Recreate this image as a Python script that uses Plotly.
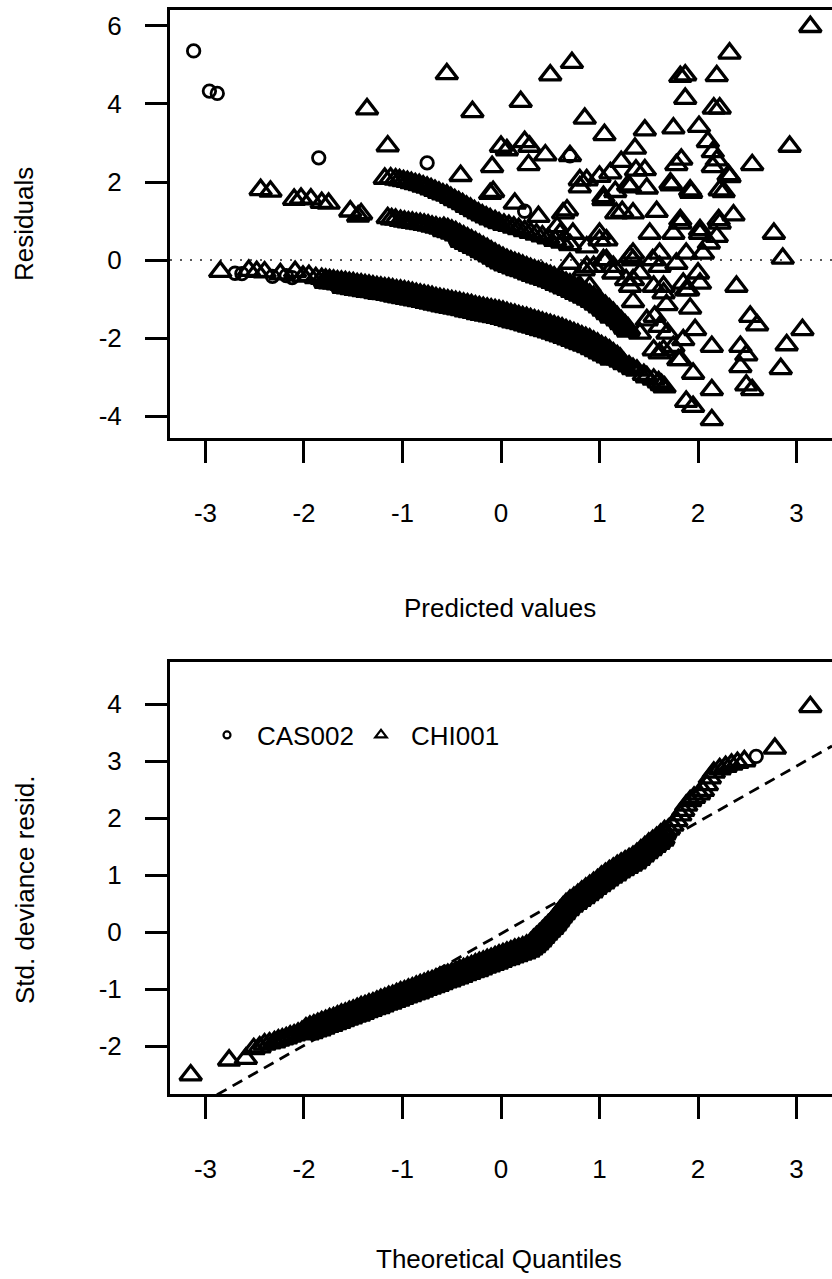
import plotly.graph_objects as go

W, H = 832, 1279
FONT = "Liberation Sans, Arial, Helvetica, sans-serif"

# ---------------- Residuals vs predicted values ----------------
# CHI001 (triangles): isolated points left of the bands
chi_left = [(-2.44, 1.80), (-2.34, 1.76), (-2.10, 1.55), (-2.03, 1.58), (-1.93, 1.56),
            (-1.82, 1.47), (-1.75, 1.45), (-1.53, 1.25), (-1.42, 1.18), (-1.45, 1.12),
            (-1.36, 3.87), (-1.15, 2.92), (-1.18, 2.09), (-0.55, 4.77), (-0.29, 3.80),
            (-0.41, 2.16), (-0.09, 2.39), (-0.08, 1.75), (-0.11, 1.70)]

# CHI001: upper band
chi_band_upper = [(-1.12, 2.10), (-1.07, 2.07), (-1.03, 2.05), (-0.99, 2.03), (-0.95, 2.01),
                  (-0.91, 1.98), (-0.87, 1.95), (-0.83, 1.93), (-0.79, 1.89), (-0.75, 1.86),
                  (-0.71, 1.82), (-0.67, 1.78), (-0.63, 1.73), (-0.59, 1.69), (-0.55, 1.66),
                  (-0.51, 1.60), (-0.47, 1.54), (-0.43, 1.49), (-0.39, 1.44), (-0.35, 1.37),
                  (-0.31, 1.32), (-0.27, 1.26), (-0.23, 1.20), (-0.19, 1.15), (-0.15, 1.10),
                  (-0.11, 1.05), (-0.06, 1.00), (-0.02, 0.95), (0.03, 0.91), (0.08, 0.88),
                  (0.13, 0.84), (0.18, 0.80), (0.24, 0.75), (0.30, 0.70), (0.36, 0.66),
                  (0.42, 0.61), (0.48, 0.56), (0.55, 0.50), (0.62, 0.45), (0.70, 0.39)]

# CHI001: middle band (upper and lower edge of the band)
chi_band_middle = [(-1.15, 1.08), (-1.11, 1.05), (-1.07, 1.04), (-1.02, 1.01), (-0.98, 0.99),
                   (-0.94, 0.97), (-0.90, 0.96), (-0.86, 0.94), (-0.82, 0.93), (-0.78, 0.91),
                   (-0.74, 0.89), (-0.70, 0.86), (-0.66, 0.84), (-0.62, 0.81), (-0.58, 0.78),
                   (-0.54, 0.75), (-0.50, 0.71), (-0.46, 0.67), (-0.42, 0.61), (-0.38, 0.56),
                   (-0.34, 0.51), (-0.30, 0.46), (-0.26, 0.41), (-0.22, 0.35), (-0.18, 0.29),
                   (-0.14, 0.24), (-0.10, 0.18), (-0.06, 0.12), (-0.02, 0.06), (0.02, 0.01),
                   (0.06, -0.04), (0.10, -0.08), (0.14, -0.12), (0.18, -0.15), (0.22, -0.19),
                   (0.26, -0.23), (0.30, -0.27), (0.34, -0.31), (0.38, -0.34), (0.42, -0.37),
                   (0.46, -0.41), (0.50, -0.45), (0.54, -0.49), (0.58, -0.54), (0.62, -0.58),
                   (0.66, -0.63), (0.70, -0.67), (0.74, -0.72), (0.78, -0.77), (0.82, -0.82),
                   (0.86, -0.87), (0.90, -0.93), (0.94, -0.99), (0.98, -1.06), (1.02, -1.14),
                   (1.06, -1.22), (1.10, -1.31), (1.14, -1.40), (1.18, -1.51), (1.22, -1.61),
                   (1.26, -1.72), (1.29, -1.80)]
chi_band_middle_low = [(-0.40, 0.50), (-0.36, 0.45), (-0.32, 0.40), (-0.28, 0.35), (-0.24, 0.30),
                       (-0.20, 0.24), (-0.16, 0.19), (-0.12, 0.13), (-0.08, 0.07), (-0.04, 0.01),
                       (0.00, -0.05), (0.04, -0.10), (0.08, -0.14), (0.12, -0.18), (0.16, -0.22),
                       (0.20, -0.25), (0.24, -0.29), (0.28, -0.33), (0.32, -0.37), (0.36, -0.41),
                       (0.40, -0.44), (0.44, -0.47), (0.48, -0.51), (0.52, -0.55), (0.56, -0.60),
                       (0.60, -0.64), (0.64, -0.69), (0.68, -0.73), (0.72, -0.78), (0.76, -0.83),
                       (0.80, -0.88), (0.84, -0.93), (0.88, -0.98), (0.92, -1.04), (0.96, -1.11),
                       (1.00, -1.18), (1.04, -1.26), (1.08, -1.35), (1.12, -1.44)]

# CHI001: lowest (dense) band
chi_band_lower = [(-2.85, -0.30), (-2.56, -0.27), (-2.48, -0.30), (-2.40, -0.31), (-2.24, -0.36),
                  (-2.09, -0.30), (-2.01, -0.42), (-1.95, -0.40), (-1.88, -0.46), (-1.82, -0.48),
                  (-1.78, -0.55), (-1.74, -0.56), (-1.70, -0.57), (-1.66, -0.59), (-1.62, -0.60),
                  (-1.58, -0.61), (-1.54, -0.63), (-1.50, -0.64), (-1.46, -0.66), (-1.42, -0.67),
                  (-1.38, -0.69), (-1.34, -0.70), (-1.30, -0.72), (-1.26, -0.74), (-1.22, -0.75),
                  (-1.18, -0.77), (-1.14, -0.78), (-1.10, -0.80), (-1.06, -0.82), (-1.02, -0.83),
                  (-0.98, -0.85), (-0.94, -0.87), (-0.90, -0.89), (-0.86, -0.91), (-0.82, -0.93),
                  (-0.78, -0.95), (-0.74, -0.97), (-0.70, -0.99), (-0.66, -1.02), (-0.62, -1.04),
                  (-0.58, -1.06), (-0.54, -1.08), (-0.50, -1.10), (-0.46, -1.12), (-0.42, -1.14),
                  (-0.38, -1.16), (-0.34, -1.18), (-0.30, -1.20), (-0.26, -1.23), (-0.22, -1.25),
                  (-0.18, -1.27), (-0.14, -1.29), (-0.10, -1.31), (-0.06, -1.33), (-0.02, -1.35),
                  (0.02, -1.37), (0.06, -1.40), (0.10, -1.43), (0.14, -1.45), (0.18, -1.48),
                  (0.22, -1.51), (0.26, -1.53), (0.30, -1.56), (0.34, -1.59), (0.38, -1.62),
                  (0.42, -1.65), (0.46, -1.68), (0.50, -1.71), (0.54, -1.74), (0.58, -1.77),
                  (0.62, -1.80), (0.66, -1.84), (0.70, -1.88), (0.74, -1.92), (0.78, -1.96),
                  (0.82, -2.00), (0.86, -2.04), (0.90, -2.08), (0.94, -2.14), (0.98, -2.19),
                  (1.02, -2.25), (1.06, -2.30), (1.10, -2.36), (1.14, -2.44), (1.18, -2.51),
                  (1.21, -2.57), (1.25, -2.66), (1.30, -2.72), (1.34, -2.79), (1.38, -2.83),
                  (1.45, -2.94), (1.48, -3.00), (1.55, -3.06), (1.60, -3.13), (1.63, -3.20),
                  (1.66, -3.26)]
chi_band_lower_low = [(-1.60, -0.68), (-1.56, -0.69), (-1.52, -0.71), (-1.48, -0.73), (-1.44, -0.74),
                      (-1.40, -0.76), (-1.36, -0.78), (-1.32, -0.79), (-1.28, -0.81), (-1.24, -0.83),
                      (-1.20, -0.84), (-1.16, -0.86), (-1.12, -0.88), (-1.08, -0.90), (-1.04, -0.92),
                      (-1.00, -0.94), (-0.96, -0.96), (-0.92, -0.98), (-0.88, -1.00), (-0.84, -1.02),
                      (-0.80, -1.04), (-0.76, -1.06), (-0.72, -1.08), (-0.68, -1.11), (-0.64, -1.13),
                      (-0.60, -1.15), (-0.56, -1.17), (-0.52, -1.19), (-0.48, -1.21), (-0.44, -1.23),
                      (-0.40, -1.25), (-0.36, -1.28), (-0.32, -1.30), (-0.28, -1.32), (-0.24, -1.35),
                      (-0.20, -1.37), (-0.16, -1.39), (-0.12, -1.41), (-0.08, -1.43), (-0.04, -1.45),
                      (0.00, -1.47), (0.04, -1.50), (0.08, -1.53), (0.12, -1.56), (0.16, -1.58),
                      (0.20, -1.61), (0.24, -1.64), (0.28, -1.67), (0.32, -1.70), (0.36, -1.73),
                      (0.40, -1.76), (0.44, -1.79), (0.48, -1.82), (0.52, -1.85), (0.56, -1.89),
                      (0.60, -1.92), (0.64, -1.96), (0.68, -2.00), (0.72, -2.04), (0.76, -2.08),
                      (0.80, -2.12), (0.84, -2.16), (0.88, -2.20), (0.92, -2.25), (0.96, -2.30),
                      (1.00, -2.36), (1.04, -2.41), (1.08, -2.46), (1.12, -2.52)]

# CHI001: scattered points on the right-hand side
chi_right = [(3.14, 5.98), (2.32, 5.30), (0.72, 5.06), (0.50, 4.74), (1.82, 4.70), (1.87, 4.74),
             (2.19, 4.72), (0.20, 4.06), (1.87, 4.14), (2.16, 3.89), (2.22, 3.89), (0.85, 3.63),
             (1.05, 3.21), (1.46, 3.33), (1.75, 3.38), (2.01, 3.42), (2.10, 3.03), (2.93, 2.91),
             (1.36, 2.86), (2.19, 2.56), (2.55, 2.44), (1.83, 2.58), (1.78, 2.44), (1.22, 2.52),
             (1.46, 2.31), (2.31, 2.18), (1.73, 1.92), (0.80, 2.05), (1.00, 2.14), (1.29, 1.92),
             (1.48, 1.84), (1.16, 1.75), (2.26, 1.75), (1.93, 1.73), (1.04, 1.62), (0.67, 1.28),
             (0.14, 1.45), (0.38, 1.11), (1.82, 1.03), (2.36, 1.15), (2.21, 1.03), (1.23, 1.24),
             (1.58, 1.24), (0.24, 3.03), (0.29, 2.91), (0.06, 2.82), (0.45, 2.69), (0.28, 2.44),
             (0.00, 2.91), (0.70, 2.67), (2.15, 2.77), (2.32, 2.13), (2.15, 2.39), (2.22, 1.79),
             (1.72, 1.97), (1.92, 1.79), (1.11, 2.23), (0.87, 2.05), (0.80, 1.87), (1.04, 1.54),
             (1.31, 1.87), (1.17, 1.20), (1.34, 1.20), (0.63, 1.20), (1.37, 2.30),
             (1.75, 0.68), (2.02, 0.68), (2.19, 0.60), (1.00, 0.68), (0.57, 0.85), (0.60, 0.68),
             (0.73, 0.68), (0.87, 0.33), (1.00, 0.51), (1.07, 0.00), (0.94, -0.17), (1.14, -0.34),
             (1.34, 0.17), (1.41, -0.34), (1.51, 0.68), (1.61, 0.17), (1.78, -0.09), (0.80, -0.68),
             (1.31, -0.68), (1.55, -0.68), (1.88, -0.77), (1.31, 0.08), (1.14, -0.17), (0.87, -0.17),
             (1.54, 0.00), (1.85, -0.60), (2.77, 0.68), (2.86, 0.04), (2.39, -0.68), (2.05, 0.17),
             (2.11, 0.43), (1.88, 0.17), (1.82, 0.94), (2.02, 0.77), (2.22, 0.94), (1.07, 0.51),
             (1.04, 0.00), (1.34, 0.00), (1.61, -0.17), (1.27, -0.51), (0.70, -0.09), (0.84, -0.26),
             (0.90, -0.68), (2.00, -0.34), (2.02, -0.60), (1.90, -0.77), (1.65, -0.68), (1.34, -0.51),
             (2.53, -1.45), (2.60, -1.67), (3.06, -1.79), (2.90, -2.18), (2.84, -2.79), (2.43, -2.22),
             (2.49, -2.44), (2.43, -2.74), (2.49, -3.21), (2.55, -3.33), (2.14, -3.33), (1.88, -3.63),
             (1.95, -3.76), (2.14, -4.10), (2.14, -2.22), (1.95, -2.91), (1.82, -2.56), (1.65, -2.31),
             (1.85, -2.05), (1.97, -1.79), (1.61, -1.71), (1.41, -1.88), (1.34, -1.07), (1.56, -1.45),
             (1.68, -1.15), (1.92, -1.24), (1.48, -1.54), (1.75, -2.22), (1.61, -2.39), (1.65, -0.85),
             (1.69, -1.88), (1.55, -2.31), (1.80, -2.56)]

# CAS002 (circles)
cas_resid = [(-3.12, 5.36), (-2.96, 4.33), (-2.88, 4.27), (-1.85, 2.62), (-0.75, 2.49),
             (0.24, 1.25), (0.70, 2.67), (-2.70, -0.34), (-2.63, -0.35), (-2.32, -0.42),
             (-2.18, -0.40), (-2.12, -0.45)]

# ---------------- Normal Q-Q of std. deviance residuals ----------------
qq_chi = [(-3.15, -2.51), (-2.76, -2.25), (-2.59, -2.22), (-2.51, -2.05), (-2.45, -2.02),
          (-2.40, -1.97), (-2.35, -1.95), (-2.30, -1.93), (-2.26, -1.90), (-2.22, -1.88),
          (-2.18, -1.86), (-2.14, -1.83), (-2.10, -1.81), (-2.06, -1.78), (-2.02, -1.75),
          (-1.98, -1.72), (-1.94, -1.69), (-1.90, -1.67), (-1.86, -1.64), (-1.82, -1.61),
          (-1.78, -1.59), (-1.74, -1.56), (-1.70, -1.54), (-1.66, -1.51), (-1.62, -1.48),
          (-1.58, -1.46), (-1.54, -1.43), (-1.50, -1.41), (-1.46, -1.38), (-1.42, -1.35),
          (-1.38, -1.33), (-1.34, -1.30), (-1.30, -1.28), (-1.26, -1.25), (-1.22, -1.22),
          (-1.18, -1.20), (-1.14, -1.17), (-1.10, -1.15), (-1.06, -1.12), (-1.02, -1.09),
          (-0.98, -1.07), (-0.94, -1.04), (-0.90, -1.02), (-0.86, -0.99), (-0.82, -0.96),
          (-0.78, -0.94), (-0.74, -0.91), (-0.70, -0.89), (-0.66, -0.86), (-0.62, -0.83),
          (-0.58, -0.81), (-0.54, -0.78), (-0.50, -0.76), (-0.46, -0.73), (-0.42, -0.70),
          (-0.38, -0.68), (-0.34, -0.65), (-0.30, -0.63), (-0.26, -0.60), (-0.22, -0.57),
          (-0.18, -0.55), (-0.14, -0.52), (-0.10, -0.50), (-0.06, -0.47), (-0.02, -0.44),
          (0.02, -0.42), (0.06, -0.39), (0.10, -0.37), (0.14, -0.34), (0.18, -0.32),
          (0.22, -0.30), (0.26, -0.27), (0.30, -0.23), (0.33, -0.17), (0.36, -0.12),
          (0.39, -0.07), (0.42, -0.02), (0.45, 0.04), (0.48, 0.09), (0.51, 0.14),
          (0.54, 0.20), (0.57, 0.27), (0.60, 0.34), (0.63, 0.40), (0.66, 0.46),
          (0.70, 0.52), (0.74, 0.57), (0.78, 0.62), (0.82, 0.68), (0.86, 0.73),
          (0.90, 0.78), (0.94, 0.83), (0.98, 0.88), (1.02, 0.94), (1.06, 0.99),
          (1.10, 1.04), (1.14, 1.08), (1.18, 1.13), (1.22, 1.17), (1.26, 1.21),
          (1.30, 1.25), (1.34, 1.29), (1.38, 1.34), (1.42, 1.40), (1.46, 1.46),
          (1.50, 1.52), (1.54, 1.57), (1.58, 1.62), (1.62, 1.68), (1.66, 1.74),
          (1.70, 1.80), (1.74, 1.87), (1.78, 1.95), (1.82, 2.05), (1.85, 2.13),
          (1.88, 2.22), (1.92, 2.30), (1.96, 2.36), (2.01, 2.42), (2.05, 2.48),
          (2.09, 2.58), (2.12, 2.70), (2.16, 2.80), (2.22, 2.86), (2.28, 2.90),
          (2.34, 2.94), (2.40, 2.97), (2.47, 3.00), (2.78, 3.22), (3.14, 3.95)]
qq_chi_low = [(-1.96, -1.77), (-1.92, -1.75), (-1.88, -1.72), (-1.84, -1.70), (-1.80, -1.67),
              (-1.76, -1.64), (-1.72, -1.62), (-1.68, -1.59), (-1.64, -1.57), (-1.60, -1.54),
              (-1.56, -1.51), (-1.52, -1.49), (-1.48, -1.46), (-1.44, -1.44), (-1.40, -1.41),
              (-1.36, -1.38), (-1.32, -1.36), (-1.28, -1.33), (-1.24, -1.31), (-1.20, -1.28),
              (-1.16, -1.25), (-1.12, -1.23), (-1.08, -1.20), (-1.04, -1.18), (-1.00, -1.15),
              (-0.96, -1.12), (-0.92, -1.10), (-0.88, -1.07), (-0.84, -1.05), (-0.80, -1.02),
              (-0.76, -0.99), (-0.72, -0.97), (-0.68, -0.94), (-0.64, -0.92), (-0.60, -0.89),
              (-0.56, -0.86), (-0.52, -0.84), (-0.48, -0.81), (-0.44, -0.79), (-0.40, -0.76),
              (-0.36, -0.73), (-0.32, -0.71), (-0.28, -0.68), (-0.24, -0.66), (-0.20, -0.63),
              (-0.16, -0.60), (-0.12, -0.58), (-0.08, -0.55), (-0.04, -0.53), (0.00, -0.50),
              (0.04, -0.47), (0.08, -0.45), (0.12, -0.42), (0.16, -0.40), (0.20, -0.37),
              (0.24, -0.35), (0.28, -0.32), (0.31, -0.28), (0.34, -0.24), (0.37, -0.19),
              (0.40, -0.14), (0.43, -0.08), (0.46, -0.02), (0.49, 0.03), (0.52, 0.08),
              (0.55, 0.14), (0.58, 0.21), (0.61, 0.28), (0.64, 0.34), (0.68, 0.41),
              (0.72, 0.47), (0.76, 0.52), (0.80, 0.57), (0.84, 0.62), (0.88, 0.67),
              (0.92, 0.72), (0.96, 0.78), (1.00, 0.83), (1.04, 0.88), (1.08, 0.93),
              (1.12, 0.98), (1.16, 1.02), (1.20, 1.07), (1.24, 1.11), (1.28, 1.15),
              (1.32, 1.19), (1.36, 1.23), (1.40, 1.29), (1.44, 1.35), (1.48, 1.41),
              (1.52, 1.46), (1.56, 1.52), (1.60, 1.57), (1.64, 1.63)]
qq_cas = [(2.59, 3.08)]

# reference line of the Q-Q plot
qq_line_intercept = -0.03
qq_line_slope = 0.98

x_ticks = [-3, -2, -1, 0, 1, 2, 3]
x_ticktext = ["-3", "-2", "-1", "0", "1", "2", "3"]
y1_ticks = [-4, -2, 0, 2, 4, 6]
y1_ticktext = ["-4", "-2", "0", "2", "4", "6"]
y2_ticks = [-2, -1, 0, 1, 2, 3, 4]
y2_ticktext = ["-2", "-1", "0", "1", "2", "3", "4"]

X_RANGE = [-3.36, 3.36]
Y1_RANGE = [-4.564, 6.41]
Y2_RANGE = [-2.842, 4.737]


def unzip(pts):
    return [p[0] for p in pts], [p[1] for p in pts]


def tri(width):
    return dict(symbol="triangle-up-open", size=19, color="black",
                line=dict(width=width, color="black"))


CIRC = dict(symbol="circle-open", size=12.5, color="black", line=dict(width=2.8, color="black"))

# where many triangles pile up, strokes are drawn heavier so the pile reads as solid ink
chi_sparse = (chi_left + chi_band_upper + chi_band_middle[:14] + chi_band_lower[:10]
              + chi_band_lower[-10:] + chi_right)
chi_dense = (chi_band_middle[14:] + chi_band_middle_low + chi_band_lower[10:-10]
             + chi_band_lower_low)
qq_sparse = qq_chi[:15] + qq_chi[-20:]
qq_dense = qq_chi[15:-20] + qq_chi_low

DENSE_LW = 5.6
SPARSE_LW = 3.3

fig = go.Figure()

for pts, lw in ((chi_dense, DENSE_LW), (chi_sparse, SPARSE_LW)):
    x, y = unzip(pts)
    fig.add_trace(go.Scatter(x=x, y=y, mode="markers", marker=tri(lw), showlegend=False,
                             xaxis="x", yaxis="y", hoverinfo="skip"))
ox, oy = unzip(cas_resid)
fig.add_trace(go.Scatter(x=ox, y=oy, mode="markers", marker=CIRC, showlegend=False,
                         xaxis="x", yaxis="y", hoverinfo="skip"))

# Q-Q panel: reference line first, points over it
lx = X_RANGE
ly = [qq_line_intercept + qq_line_slope * v for v in lx]
fig.add_trace(go.Scatter(x=lx, y=ly, mode="lines",
                         line=dict(color="black", width=2.8, dash="11px,7px"),
                         showlegend=False, xaxis="x2", yaxis="y2", hoverinfo="skip"))
for pts, lw in ((qq_dense, DENSE_LW), (qq_sparse, SPARSE_LW)):
    x, y = unzip(pts)
    fig.add_trace(go.Scatter(x=x, y=y, mode="markers", marker=tri(lw), showlegend=False,
                             xaxis="x2", yaxis="y2", hoverinfo="skip"))
px_, py_ = unzip(qq_cas)
fig.add_trace(go.Scatter(x=px_, y=py_, mode="markers", marker=CIRC, showlegend=False,
                         xaxis="x2", yaxis="y2", hoverinfo="skip"))

# legend entries (small symbols)
fig.add_trace(go.Scatter(x=[None], y=[None], mode="markers", name="CAS002",
                         marker=dict(symbol="circle-open", size=7, color="black",
                                     line=dict(width=2.2, color="black")),
                         xaxis="x2", yaxis="y2"))
fig.add_trace(go.Scatter(x=[None], y=[None], mode="markers", name="CHI001",
                         marker=dict(symbol="triangle-up-open", size=10, color="black",
                                     line=dict(width=2.2, color="black")),
                         xaxis="x2", yaxis="y2"))

x_dom = [170 / W, 1.0]
y1_dom = [1 - 438 / H, 1 - 10 / H]
y2_dom = [1 - 1094 / H, 1 - 662 / H]

FS = 26
tickfont = dict(family=FONT, size=FS, color="black")
common_x = dict(range=X_RANGE, tickvals=x_ticks, ticktext=x_ticktext, ticks="outside",
                ticklen=22, tickwidth=3, tickcolor="black", showline=True, linewidth=3,
                linecolor="black", mirror=True, showgrid=False, zeroline=False,
                tickfont=tickfont, ticklabelstandoff=28, fixedrange=True)
common_y = dict(ticks="outside", ticklen=22, tickwidth=3, tickcolor="black", showline=True,
                linewidth=3, linecolor="black", mirror=False, showgrid=False, zeroline=False,
                tickfont=tickfont, ticklabelstandoff=18, fixedrange=True)

title_font = dict(family=FONT, size=FS, color="black")

fig.update_layout(
    width=W, height=H,
    margin=dict(l=0, r=0, t=0, b=0),
    paper_bgcolor="white", plot_bgcolor="white",
    font=dict(family=FONT, size=FS, color="black"),
    xaxis=dict(domain=x_dom, anchor="y", **common_x),
    yaxis=dict(domain=y1_dom, anchor="x", range=Y1_RANGE, tickvals=y1_ticks,
               ticktext=y1_ticktext, **common_y),
    xaxis2=dict(domain=x_dom, anchor="y2", **common_x),
    yaxis2=dict(domain=y2_dom, anchor="x2", range=Y2_RANGE, tickvals=y2_ticks,
                ticktext=y2_ticktext, **common_y),
    showlegend=True,
    legend=dict(orientation="h", x=197 / W, xanchor="left", y=1 - 735 / H, yanchor="middle",
                bgcolor="rgba(0,0,0,0)", font=dict(family=FONT, size=26, color="black"),
                itemwidth=50, entrywidth=89, entrywidthmode="pixels",
                itemclick=False, itemdoubleclick=False),
    shapes=[dict(type="line", xref="x domain", yref="y", x0=0, x1=1, y0=0, y1=0,
                 line=dict(color="#222222", width=1.5, dash="2px,8px"), layer="below")],
    annotations=[
        dict(text="Residuals", x=24 / W, y=1 - 224 / H, xref="paper", yref="paper",
             textangle=-90, showarrow=False, xanchor="center", yanchor="middle",
             font=title_font),
        dict(text="Predicted values", x=500 / W, y=1 - 608 / H, xref="paper", yref="paper",
             showarrow=False, xanchor="center", yanchor="middle", font=title_font),
        dict(text="Std. deviance resid.", x=25 / W, y=1 - 890 / H, xref="paper", yref="paper",
             textangle=-90, showarrow=False, xanchor="center", yanchor="middle",
             font=title_font),
        dict(text="Theoretical Quantiles", x=499 / W, y=1 - 1259 / H, xref="paper",
             yref="paper", showarrow=False, xanchor="center", yanchor="middle",
             font=title_font),
    ],
)

fig.write_html("out.html")
